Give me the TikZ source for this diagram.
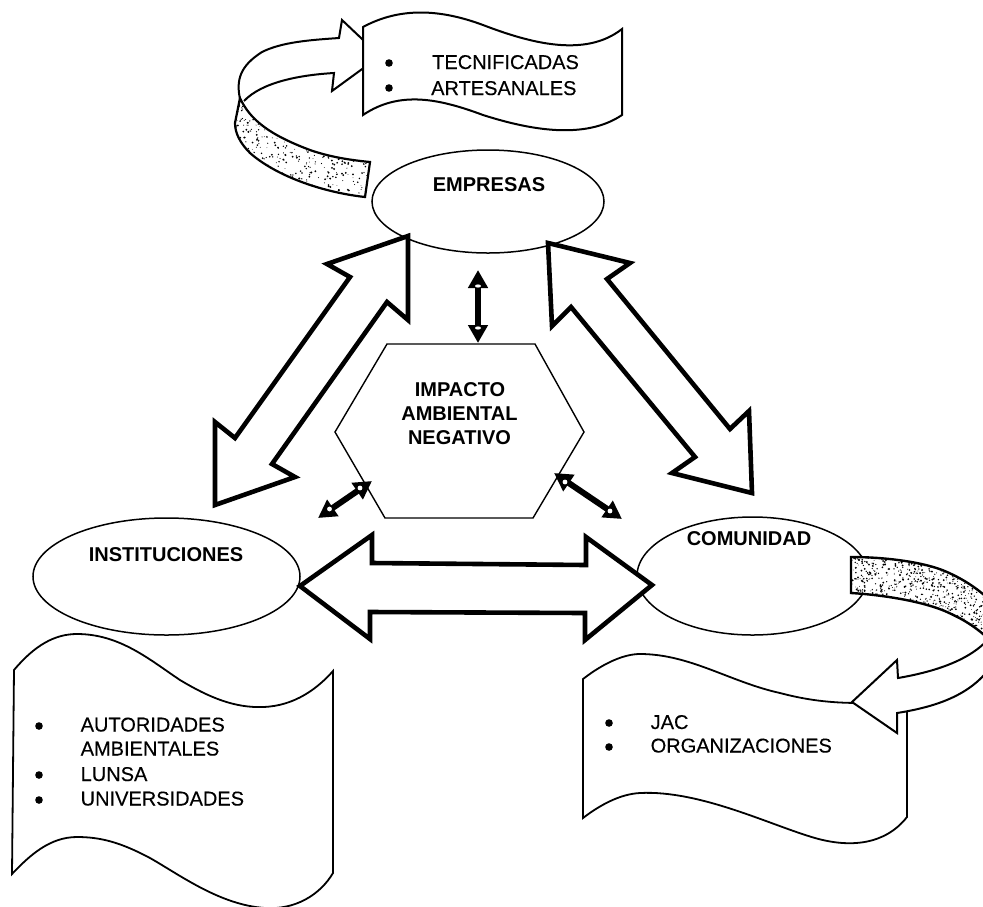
\documentclass[tikz,border=0pt]{standalone}
\usepackage{fontspec}
\setmainfont{Liberation Sans}
\newfontfamily\itemfont[FakeBold=0.25]{Liberation Sans}
\usetikzlibrary{shapes.geometric,arrows.meta}
\tikzset{
  thinline/.style={draw=black,fill=white,line width=1.6pt,line join=miter},
  bigarrow/.style={draw=black,fill=white,line width=4.6pt,line join=miter,miter limit=6},
  blob/.style={shape=ellipse,draw=black,fill=white,line width=1.5pt,inner sep=0pt},
  item/.style={anchor=base west,inner sep=0pt,font=\fontsize{20}{24}\selectfont\itemfont},
  bul/.style={shape=circle,fill=black,draw=none,inner sep=0pt,minimum size=7.6pt},
  head/.style={anchor=base,inner sep=0pt,font=\fontsize{20}{24}\selectfont\bfseries},
  twin/.style={line width=6pt,{Triangle[length=18pt,width=19pt]}-{Triangle[length=18pt,width=19pt]}},
  spot/.style={fill=white,draw=none}
}
\newcommand{\speckle}[5]{% x0 y0 w h count
  \pgfmathsetseed{#5}
  \foreach \k in {1,...,#5}{
    \pgfmathsetmacro{\px}{#1+rnd*#3}
    \pgfmathsetmacro{\py}{#2+rnd*#4}
    \pgfmathsetmacro{\pr}{0.35+rnd*0.75}
    \fill[black] (\px,\py) circle[radius=\pr pt];
  }}
\begin{document}
\begin{tikzpicture}[x=1pt,y=-1pt]
\useasboundingbox (0,0) rectangle (983,906);
\clip (0,0) rectangle (983,906);

% top-left ribbon arrow
\draw[thinline,line width=2pt] (240,99) .. controls (236,80) and (240,66) .. (262,52)
   .. controls (282,42) and (310,40) .. (339,38) -- (342,20) -- (380,56) -- (332,91) -- (334,73)
   .. controls (300,75) and (262,82) .. (244,101);
\draw[thinline,line width=2.2pt] (240,98) .. controls (250,120) and (270,135) .. (310,150)
   .. controls (330,157) and (350,160) .. (370,162) -- (365,197)
   .. controls (320,192) and (275,175) .. (250,153) .. controls (240,143) and (235,133) .. (235,123) -- cycle;
\begin{scope}
  \clip (240,98) .. controls (250,120) and (270,135) .. (310,150)
   .. controls (330,157) and (350,160) .. (370,162) -- (365,197)
   .. controls (320,192) and (275,175) .. (250,153) .. controls (240,143) and (235,133) .. (235,123) -- cycle;
  \speckle{235}{100}{135}{97}{600}
\end{scope}

% top banner
\draw[thinline,line width=2pt] (363,27) .. controls (400,7) and (440,9) .. (483,25)
   .. controls (530,43) and (585,58) .. (622,29) -- (622,115)
   .. controls (585,140) and (530,130) .. (483,115) .. controls (440,99) and (400,90) .. (363,115) -- cycle;
\node[bul] (b1) at (389,63) {};
\node[bul] (b2) at (389,88) {};
\node[item] (tec) at (432,69) {TECNIFICADAS};
\node[item] (art) at (431,95) {ARTESANALES};

% ellipses
\node[blob,minimum width=232pt,minimum height=103pt] (empresas) at (488,201.5) {};
\node[blob,minimum width=267pt,minimum height=117pt] (instituciones) at (166.5,576.5) {};
\node[blob,minimum width=231pt,minimum height=118pt] (comunidad) at (752.5,576) {};
\node[head] (tempresas) at (489,191.5) {EMPRESAS};
\node[head] (tinst) at (166,561.5) {INSTITUCIONES};
\node[head] (tcom) at (749,545) {COMUNIDAD};

% hexagon
\draw[thinline,line width=1.4pt] (387,344) -- (535,344) -- (584,432) -- (533,518) -- (385,518) -- (335,432) -- cycle;
\node[head] (imp1) at (460,396.5) {IMPACTO};
\node[head] (imp2) at (459.5,420) {AMBIENTAL};
\node[head] (imp3) at (459.5,444) {NEGATIVO};

% big double arrows
\draw[bigarrow] (408,236) -- (327,264) -- (350,277) -- (235,438) -- (215,422) -- (215,505) -- (295,477) -- (272,464) -- (387,302) -- (408,320) -- cycle;
\draw[bigarrow] (548,243) -- (630,263) -- (607,279) -- (730,429) -- (749,411) -- (752,493) -- (672,473) -- (695,457) -- (571,307) -- (552,326) -- cycle;
\draw[bigarrow] (300,586) -- (372,535) -- (372,563) -- (586,565) -- (586,537) -- (652,585) -- (585,640) -- (585,613) -- (370,612) -- (370,639) -- cycle;

% small double arrows
\coordinate (v1) at (478,270); \coordinate (v2) at (478,343);
\coordinate (l1) at (318,518); \coordinate (l2) at (372,481);
\coordinate (r1) at (554,473); \coordinate (r2) at (622,519);
\draw[twin] (v1) -- (v2);
\draw[twin] (l1) -- (l2);
\draw[twin] (r1) -- (r2);
\fill[spot] (478,286) ellipse[x radius=3pt,y radius=1.6pt];
\fill[spot] (478,328) ellipse[x radius=3pt,y radius=1.6pt];
\fill[spot] (329.5,509) circle[radius=2.4pt];
\fill[spot] (360,488) circle[radius=2.4pt];
\fill[spot] (565,482) circle[radius=2.4pt];
\fill[spot] (610,511) circle[radius=2.4pt];

% left banner
\draw[thinline,line width=1.8pt] (14,670) .. controls (35,645) and (55,634) .. (77,634)
   .. controls (120,634) and (150,660) .. (180,680) .. controls (210,698) and (235,708) .. (263,707)
   .. controls (295,706) and (318,688) .. (333,671)
   -- (333,873) .. controls (320,895) and (295,910) .. (265,908)
   .. controls (220,905) and (180,875) .. (150,858) .. controls (120,842) and (100,837) .. (77,837)
   .. controls (50,837) and (30,855) .. (12,874) -- cycle;
\node[bul] (b3) at (39,726) {};
\node[bul] (b4) at (39,775) {};
\node[bul] (b5) at (39,800) {};
\node[item] (a1) at (80.5,731.5) {AUTORIDADES};
\node[item] (a2) at (80.5,755.5) {AMBIENTALES};
\node[item] (a3) at (80.5,781) {LUNSA};
\node[item] (a4) at (80.5,805.5) {UNIVERSIDADES};

% right ribbon: speckled part
\draw[thinline,line width=2.4pt] (851,557) .. controls (885,557) and (925,562) .. (947,572)
   .. controls (965,580) and (980,590) .. (995,605) -- (995,645)
   .. controls (975,625) and (960,618) .. (947,612) .. controls (925,602) and (885,595) .. (851,593) -- cycle;
\begin{scope}
  \clip (851,557) .. controls (885,557) and (925,562) .. (947,572)
   .. controls (965,580) and (980,590) .. (995,605) -- (995,645)
   .. controls (975,625) and (960,618) .. (947,612) .. controls (925,602) and (885,595) .. (851,593) -- cycle;
  \speckle{851}{555}{135}{85}{1100}
\end{scope}

% right banner
\draw[thinline,line width=1.8pt] (583,679) .. controls (605,662) and (625,654) .. (640,654)
   .. controls (690,654) and (730,682) .. (780,693) .. controls (810,701) and (835,703) .. (860,703)
   -- (907,690) -- (907,817) .. controls (885,845) and (850,848) .. (815,838)
   .. controls (770,825) and (700,790) .. (640,793) .. controls (620,794) and (600,805) .. (583,818) -- cycle;
\node[bul] (b6) at (609,723) {};
\node[bul] (b7) at (609,747) {};
\node[item] (j1) at (650.5,729) {JAC};
\node[item] (j2) at (650.5,752.5) {ORGANIZACIONES};

% right ribbon: white arrow
\draw[thinline,line width=2pt] (995,630) .. controls (980,655) and (945,670) .. (898,678)
   -- (897,660) -- (852,702) -- (897,733) -- (897,713)
   .. controls (935,707) and (975,695) .. (995,660);
\end{tikzpicture}
\end{document}
